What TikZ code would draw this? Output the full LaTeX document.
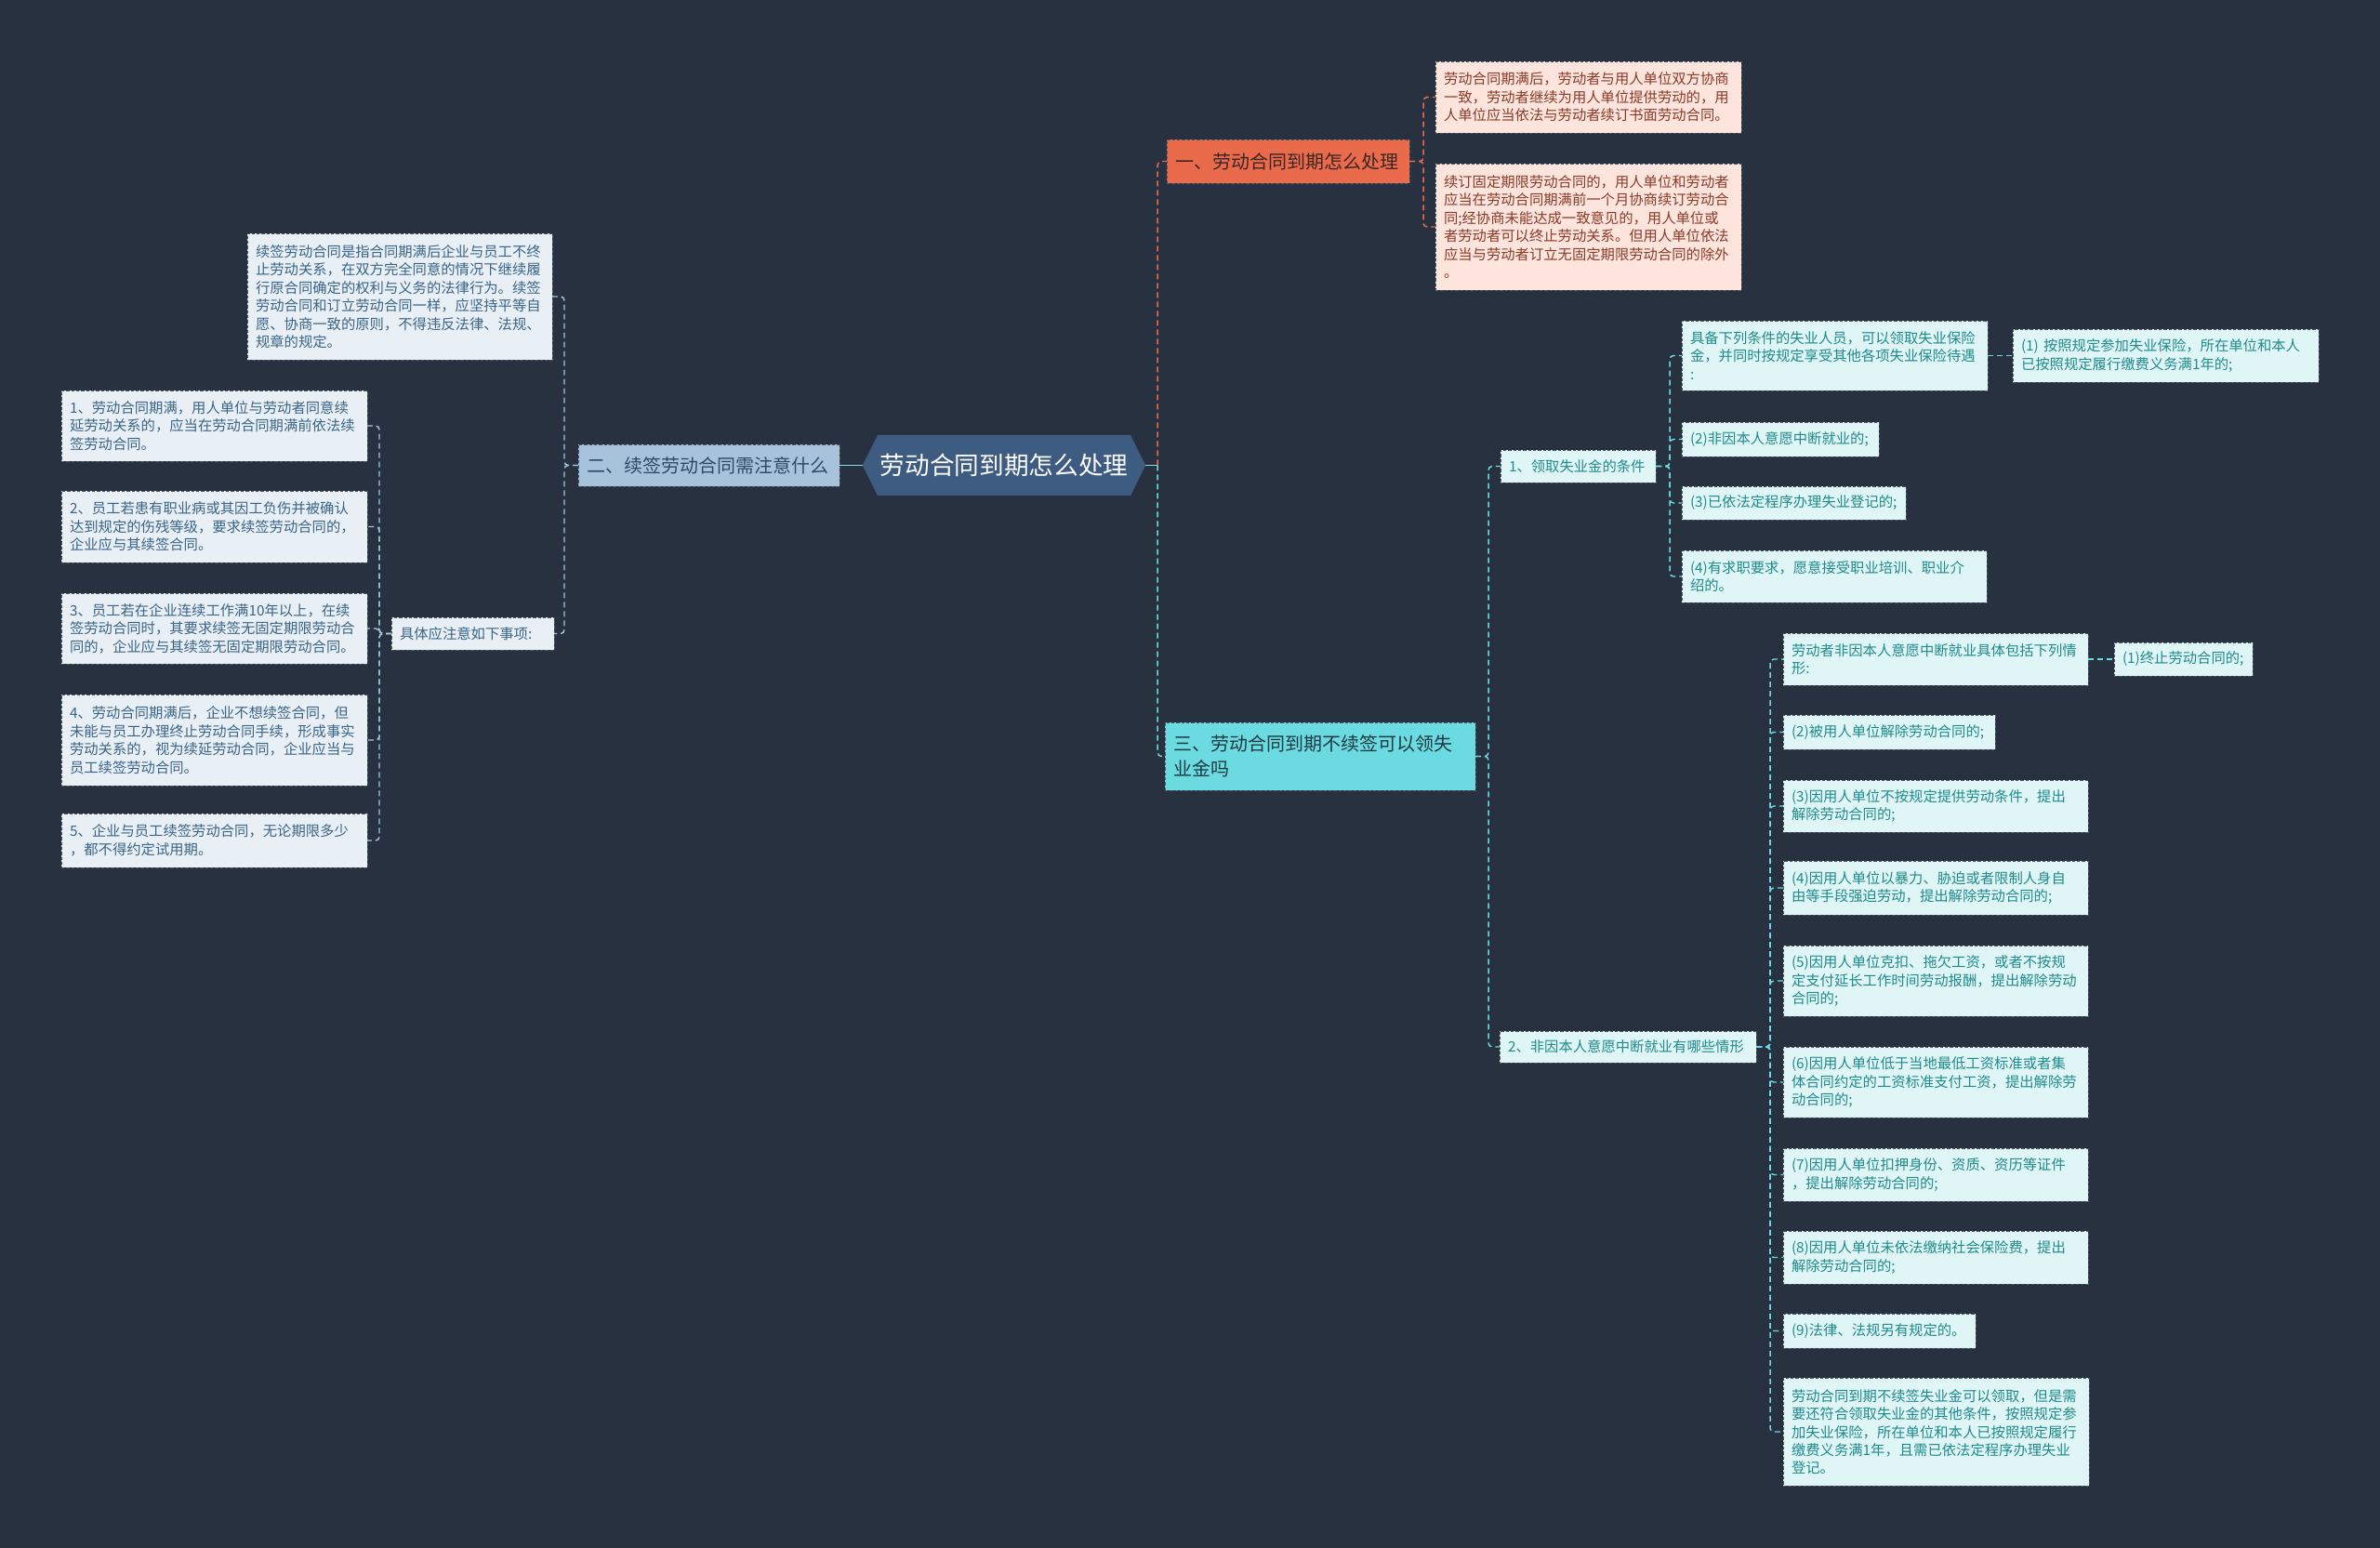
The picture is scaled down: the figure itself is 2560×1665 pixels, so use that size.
\documentclass[tikz,border=0pt]{standalone}
\usepackage{fontspec}
\setmainfont{Noto Sans CJK SC}
\usetikzlibrary{shapes.symbols}
\definecolor{bg}{HTML}{283140}
\definecolor{cfill}{HTML}{3E5B82}
\definecolor{orfill}{HTML}{EA6A4C}
\definecolor{ortext}{HTML}{3A2622}
\definecolor{pkfill}{HTML}{FDE4DC}
\definecolor{pktext}{HTML}{8B3A28}
\definecolor{bufill}{HTML}{A7C3DB}
\definecolor{butext}{HTML}{2C4B68}
\definecolor{lbfill}{HTML}{E8F0F6}
\definecolor{lbtext}{HTML}{3B6487}
\definecolor{cyfill}{HTML}{6BDBE1}
\definecolor{cytext}{HTML}{1D3A41}
\definecolor{lcfill}{HTML}{E0F6F6}
\definecolor{lctext}{HTML}{1F8A8C}
\definecolor{bord}{HTML}{4D5560}
\definecolor{linec}{HTML}{8ED8E8}
\begin{document}
\begin{tikzpicture}[x=0.75pt,y=-0.75pt,
  base/.style={rectangle, draw=bord, line width=0.6pt, dash pattern=on 2.5pt off 1.5pt,
    align=left, inner xsep=6.75pt, inner ysep=0pt, outer sep=0pt, anchor=north west},
  box/.style 2 args={base, text width=#1*0.75pt-13.5pt, minimum height=#2*0.75pt},
  small/.style={font=\fontsize{11.5pt}{14.6pt}\selectfont},
  mid/.style={font=\fontsize{15pt}{20pt}\selectfont},
  pinkbox/.style 2 args={box={#1}{#2}, small, fill=pkfill, text=pktext},
  bluebox/.style 2 args={box={#1}{#2}, small, fill=lbfill, text=lbtext},
  cyanbox/.style 2 args={box={#1}{#2}, small, fill=lcfill, text=lctext},
  conn/.style={line width=1.1pt, dash pattern=on 4.5pt off 3pt, rounded corners=3pt},
  conO/.style={conn, draw=orfill},
  conB/.style={conn, draw=bufill},
  conC/.style={conn, draw=cyfill}
]
\fill[bg] (0,0) rectangle (2560,1665);

% center
\node[signal, signal to=west and east, signal pointer angle=127, fill=cfill, text=white,
  font=\fontsize{20pt}{24pt}\selectfont, minimum height=48.75pt, inner xsep=2pt, inner ysep=0pt,
  outer sep=0pt] (C0) at (1080,500.5) {劳动合同到期怎么处理};

% branch one
\node[box={261}{47}, mid, fill=orfill, text=ortext] (N1) at (1255,150) {一、劳动合同到期怎么处理};
\node[pinkbox={329}{77}] (A) at (1544,66) {劳动合同期满后，劳动者与用人单位双方协商\\一致，劳动者继续为用人单位提供劳动的，用\\人单位应当依法与劳动者续订书面劳动合同。};
\node[pinkbox={329}{136}] (B) at (1544,176) {续订固定期限劳动合同的，用人单位和劳动者\\应当在劳动合同期满前一个月协商续订劳动合\\同;经协商未能达成一致意见的，用人单位或\\者劳动者可以终止劳动关系。但用人单位依法\\应当与劳动者订立无固定期限劳动合同的除外\\。};

% branch two
\node[box={281}{45}, mid, fill=bufill, text=butext] (N2) at (622,478) {二、续签劳动合同需注意什么};
\node[bluebox={328}{136}] (L0) at (266,251) {续签劳动合同是指合同期满后企业与员工不终\\止劳动关系，在双方完全同意的情况下继续履\\行原合同确定的权利与义务的法律行为。续签\\劳动合同和订立劳动合同一样，应坚持平等自\\愿、协商一致的原则，不得违反法律、法规、\\规章的规定。};
\node[bluebox={175}{35}] (D) at (421,664) {具体应注意如下事项:};
\node[bluebox={329}{76}] (I1) at (66,420) {1、劳动合同期满，用人单位与劳动者同意续\\延劳动关系的，应当在劳动合同期满前依法续\\签劳动合同。};
\node[bluebox={329}{77}] (I2) at (66,528) {2、员工若患有职业病或其因工负伤并被确认\\达到规定的伤残等级，要求续签劳动合同的，\\企业应与其续签合同。};
\node[bluebox={329}{76}] (I3) at (66,638) {3、员工若在企业连续工作满10年以上，在续\\签劳动合同时，其要求续签无固定期限劳动合\\同的，企业应与其续签无固定期限劳动合同。};
\node[bluebox={329}{98}] (I4) at (66,747) {4、劳动合同期满后，企业不想续签合同，但\\未能与员工办理终止劳动合同手续，形成事实\\劳动关系的，视为续延劳动合同，企业应当与\\员工续签劳动合同。};
\node[bluebox={329}{58}] (I5) at (66,875) {5、企业与员工续签劳动合同，无论期限多少\\，都不得约定试用期。};

% branch three
\node[box={334}{73}, mid, fill=cyfill, text=cytext] (N3) at (1253,777) {三、劳动合同到期不续签可以领失\\业金吗};
\node[cyanbox={167}{35}] (R1) at (1614,484) {1、领取失业金的条件};
\node[cyanbox={329}{75}] (R1a) at (1809,345) {具备下列条件的失业人员，可以领取失业保险\\金，并同时按规定享受其他各项失业保险待遇\\:};
\node[cyanbox={329}{57}] (R1a1) at (2165,354) {(1) 按照规定参加失业保险，所在单位和本人\\已按照规定履行缴费义务满1年的;};
\node[cyanbox={212}{37}] (R1b) at (1809,454) {(2)非因本人意愿中断就业的;};
\node[cyanbox={241}{36}] (R1c) at (1809,523) {(3)已依法定程序办理失业登记的;};
\node[cyanbox={328}{56}] (R1d) at (1809,592) {(4)有求职要求，愿意接受职业培训、职业介\\绍的。};
\node[cyanbox={276}{34}] (R2) at (1613,1109) {2、非因本人意愿中断就业有哪些情形};
\node[cyanbox={328}{56}] (R2a) at (1918,681) {劳动者非因本人意愿中断就业具体包括下列情\\形:};
\node[cyanbox={149}{36}] (R2a1) at (2274,691) {(1)终止劳动合同的;};
\node[cyanbox={228}{37}] (R2b) at (1918,769) {(2)被用人单位解除劳动合同的;};
\node[cyanbox={328}{56}] (R2c) at (1918,839) {(3)因用人单位不按规定提供劳动条件，提出\\解除劳动合同的;};
\node[cyanbox={328}{58}] (R2d) at (1918,926) {(4)因用人单位以暴力、胁迫或者限制人身自\\由等手段强迫劳动，提出解除劳动合同的;};
\node[cyanbox={328}{76}] (R2e) at (1918,1017) {(5)因用人单位克扣、拖欠工资，或者不按规\\定支付延长工作时间劳动报酬，提出解除劳动\\合同的;};
\node[cyanbox={328}{76}] (R2f) at (1918,1126) {(6)因用人单位低于当地最低工资标准或者集\\体合同约定的工资标准支付工资，提出解除劳\\动合同的;};
\node[cyanbox={328}{57}] (R2g) at (1918,1235) {(7)因用人单位扣押身份、资质、资历等证件\\，提出解除劳动合同的;};
\node[cyanbox={328}{57}] (R2h) at (1918,1324) {(8)因用人单位未依法缴纳社会保险费，提出\\解除劳动合同的;};
\node[cyanbox={207}{37}] (R2i) at (1918,1413) {(9)法律、法规另有规定的。};
\node[cyanbox={329}{116}] (R2j) at (1918,1482) {劳动合同到期不续签失业金可以领取，但是需\\要还符合领取失业金的其他条件，按照规定参\\加失业保险，所在单位和本人已按照规定履行\\缴费义务满1年，且需已依法定程序办理失业\\登记。};

% connectors from center
\draw[linec, line width=1.1pt] (C0.west) -- (N2.east);
\draw[linec, line width=1.1pt] (C0.east) -- ++(13,0) coordinate (rs);
\draw[conO] (rs) |- (N1.west);
\draw[conC] (rs) |- (N3.west);

% branch one connectors
\foreach \t in {A,B} \draw[conO] (N1.east) -- ++(15,0) |- (\t.west);

% branch two connectors
\foreach \t in {L0,D} \draw[conB] (N2.west) -- ++(-15,0) |- (\t.east);
\foreach \t in {I1,I2,I3,I4,I5} \draw[conB] (D.west) -- ++(-13,0) |- (\t.east);

% branch three connectors
\foreach \t in {R1,R2} \draw[conC] (N3.east) -- ++(14,0) |- (\t.west);
\foreach \t in {R1a,R1b,R1c,R1d} \draw[conC] (R1.east) -- ++(15,0) |- (\t.west);
\draw[conC] (R1a.east) -- (R1a1.west);
\foreach \t in {R2a,R2b,R2c,R2d,R2e,R2f,R2g,R2h,R2i,R2j} \draw[conC] (R2.east) -- ++(15,0) |- (\t.west);
\draw[conC] (R2a.east) -- (R2a1.west);
\end{tikzpicture}
\end{document}
